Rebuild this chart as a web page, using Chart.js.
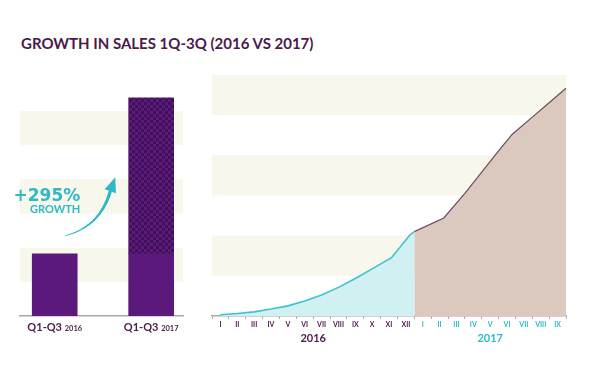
<!DOCTYPE html>
<html>
<head>
<meta charset="utf-8">
<script src="https://cdn.jsdelivr.net/npm/chart.js@4.4.0/dist/chart.umd.min.js"></script>
<style>
  body { margin: 0; background: #fff; width: 600px; height: 369px; overflow: hidden; position: relative; }
  #title { position: absolute; left: 21px; top: 36px; font: bold 15px/15px Lato, sans-serif; color: #4a1a4c; white-space: nowrap; }
  #leftBox { position: absolute; left: 0; top: 60px; width: 200px; height: 290px; }
  #rightBox { position: absolute; left: 200px; top: 60px; width: 400px; height: 300px; }
</style>
</head>
<body>
<div id="title">GROWTH IN SALES 1Q-3Q (2016 VS 2017)</div>
<div id="leftBox"><canvas id="bars"></canvas></div>
<div id="rightBox"><canvas id="sales"></canvas></div>
<script>
// left chart: Q1-Q3 totals (100 = one background band)
const periods = ['Q1-Q3', 'Q1-Q3'];
const periodYears = ['2016', '2017'];
const periodTotals = [182, 639];
const growthText = ['+295%', 'GROWTH'];

// right chart: cumulative sales, x = months since start of 2016
const monthsRoman = ['I', 'II', 'III', 'IV', 'V', 'VI', 'VII', 'VIII', 'IX', 'X', 'XI', 'XII',
                     'I', 'II', 'III', 'IV', 'V', 'VI', 'VII', 'VIII', 'IX'];
const years = ['2016', '2017'];
const yearMonths = [12, 9];
const x2016 = [0.5, 1.5, 2.5, 3.5, 4.5, 5.5, 6.5, 7.5, 8.5, 9.5, 10.65, 11.75, 12];
const sales2016 = [3, 6, 10, 17, 25, 37, 52, 71, 93, 117, 145, 202, 210];
const x2017 = [12, 13.75, 15, 16, 17, 17.8, 19, 20, 21];
const sales2017 = [210, 244, 305, 358, 411, 452, 495, 531, 567];

const PURPLE = '#4a1a4c';
const CYAN = '#2fb8c8';
const CREAM = '#f8f7eb';
const BAR = '#5b1a7b';
const AXIS = '#aea79f';

// cream bands behind both charts
const bands = {
  id: 'bands',
  beforeDraw(chart) {
    const { ctx, chartArea: a, scales: { y } } = chart;
    ctx.save();
    ctx.fillStyle = CREAM;
    [100, 300, 500].forEach(v => {
      const top = y.getPixelForValue(v + 100);
      const bot = y.getPixelForValue(v);
      ctx.fillRect(a.left, top, a.right - a.left, bot - top);
    });
    ctx.restore();
  }
};

function checker() {
  const c = document.createElement('canvas');
  c.width = c.height = 6;
  const g = c.getContext('2d');
  g.fillStyle = '#5a1b7b';
  g.fillRect(0, 0, 6, 6);
  g.fillStyle = '#420f5a';
  g.fillRect(0, 0, 3, 3);
  g.fillRect(3, 3, 3, 3);
  return g.createPattern(c, 'repeat');
}

// "Q1-Q3 2016" labels with the small year
const periodLabels = {
  id: 'periodLabels',
  afterDraw(chart) {
    const { ctx, scales: { x } } = chart;
    ctx.save();
    ctx.fillStyle = PURPLE;
    periods.forEach((p, i) => {
      const cx = x.getPixelForValue(i);
      ctx.font = 'bold 11px Lato';
      const w1 = ctx.measureText(p + ' ').width;
      ctx.font = 'bold 7.5px Lato';
      const w2 = ctx.measureText(periodYears[i]).width;
      const left = cx - (w1 + w2) / 2;
      ctx.font = 'bold 11px Lato';
      ctx.fillText(p, left, x.top + 15);
      ctx.font = 'bold 7.5px Lato';
      ctx.fillText(periodYears[i], left + w1, x.top + 15);
    });
    ctx.restore();
  }
};

// growth note and curved arrow, placed in data units
const growthNote = {
  id: 'growthNote',
  afterDatasetsDraw(chart) {
    const { ctx, scales: { x, y } } = chart;
    const P = (u, v) => [x.getPixelForValue(u), y.getPixelForValue(v)];
    ctx.save();
    ctx.fillStyle = CYAN;
    ctx.strokeStyle = CYAN;
    ctx.textAlign = 'right';
    ctx.font = 'bold 17px "DejaVu Sans"';
    let [tx, ty] = P(0.265, 337);
    ctx.fillText(growthText[0], tx, ty);
    ctx.font = 'bold 11px Lato';
    [tx, ty] = P(0.265, 303);
    ctx.fillText(growthText[1], tx, ty);

    const a = P(0.11, 235), c = P(0.47, 262), b = P(0.576, 365), tip = P(0.628, 406);
    ctx.lineCap = 'round';
    const n = 24;
    let prev = a;
    for (let i = 1; i <= n; i++) {
      const t = i / n, s = 1 - t;
      const pt = [s * s * a[0] + 2 * s * t * c[0] + t * t * b[0], s * s * a[1] + 2 * s * t * c[1] + t * t * b[1]];
      ctx.lineWidth = 0.6 + 2.6 * t;
      ctx.beginPath();
      ctx.moveTo(prev[0], prev[1]);
      ctx.lineTo(pt[0], pt[1]);
      ctx.stroke();
      prev = pt;
    }
    const dx = tip[0] - b[0], dy = tip[1] - b[1], len = Math.hypot(dx, dy);
    const px = -dy / len * 6, py = dx / len * 6;
    ctx.beginPath();
    ctx.moveTo(tip[0], tip[1]);
    ctx.lineTo(b[0] + px, b[1] + py);
    ctx.lineTo(b[0] - px, b[1] - py);
    ctx.closePath();
    ctx.fill();
    ctx.restore();
  }
};

new Chart(document.getElementById('bars'), {
  type: 'bar',
  data: {
    datasets: [
      {
        data: periodTotals.map((v, i) => ({ x: i, y: periodTotals[0] })),
        backgroundColor: BAR
      },
      {
        data: [{ x: 1, y: periodTotals[1] - periodTotals[0] }],
        backgroundColor: checker()
      }
    ]
  },
  options: {
    responsive: true,
    maintainAspectRatio: false,
    animation: false,
    layout: { padding: { top: 34, right: 17, bottom: 34, left: 20 } },
    plugins: { legend: { display: false }, tooltip: { enabled: false } },
    datasets: { bar: { grouped: false, barThickness: 45 } },
    scales: {
      x: {
        type: 'linear', min: -0.36, max: 1.33, offset: false,
        afterBuildTicks: s => { s.ticks = periods.map((p, i) => ({ value: i })); },
        grid: { display: false, drawTicks: false, offset: false },
        ticks: { display: false },
        border: { color: AXIS, width: 1.5 }
      },
      y: { display: false, stacked: true, min: 0, max: 650 }
    }
  },
  plugins: [bands, periodLabels, growthNote]
});

new Chart(document.getElementById('sales'), {
  type: 'line',
  data: {
    datasets: [
      {
        data: x2016.map((x, i) => ({ x, y: sales2016[i] })),
        borderColor: '#3dc2cf', borderWidth: 1.6,
        backgroundColor: '#d0f0f1', fill: 'origin', pointRadius: 0
      },
      {
        data: x2017.map((x, i) => ({ x, y: sales2017[i] })),
        borderColor: '#6d4a5c', borderWidth: 1.2,
        backgroundColor: '#dbc9c0', fill: 'origin', pointRadius: 0
      }
    ]
  },
  options: {
    responsive: true,
    maintainAspectRatio: false,
    animation: false,
    layout: { padding: { top: 15, right: 34, bottom: 14.5, left: 12 } },
    plugins: { legend: { display: false }, tooltip: { enabled: false } },
    scales: {
      x: {
        type: 'linear', min: 0, max: monthsRoman.length,
        afterBuildTicks: s => { s.ticks = monthsRoman.map((m, i) => ({ value: i + 0.5 })); },
        ticks: {
          callback: (v, i) => monthsRoman[i],
          color: c => c.index < yearMonths[0] ? PURPLE : CYAN,
          font: { family: 'Lato', size: 7, weight: 'bold' },
          padding: 2, maxRotation: 0, autoSkip: false
        },
        grid: { offset: true, drawOnChartArea: false, tickLength: 3, color: AXIS },
        border: { color: AXIS, width: 1.5 }
      },
      x2: {
        type: 'linear', position: 'bottom', min: 0, max: monthsRoman.length,
        afterBuildTicks: s => {
          s.ticks = [{ value: yearMonths[0] / 2 }, { value: yearMonths[0] + yearMonths[1] / 2 }];
        },
        ticks: {
          callback: (v, i) => years[i],
          color: c => c.index === 0 ? PURPLE : CYAN,
          font: { family: 'Lato', size: 11, weight: 'bold' },
          padding: 0.5, maxRotation: 0, autoSkip: false
        },
        grid: { display: false, drawTicks: false },
        border: { display: false }
      },
      y: { display: false, min: 0, max: 600 }
    }
  },
  plugins: [bands]
});
</script>
</body>
</html>
